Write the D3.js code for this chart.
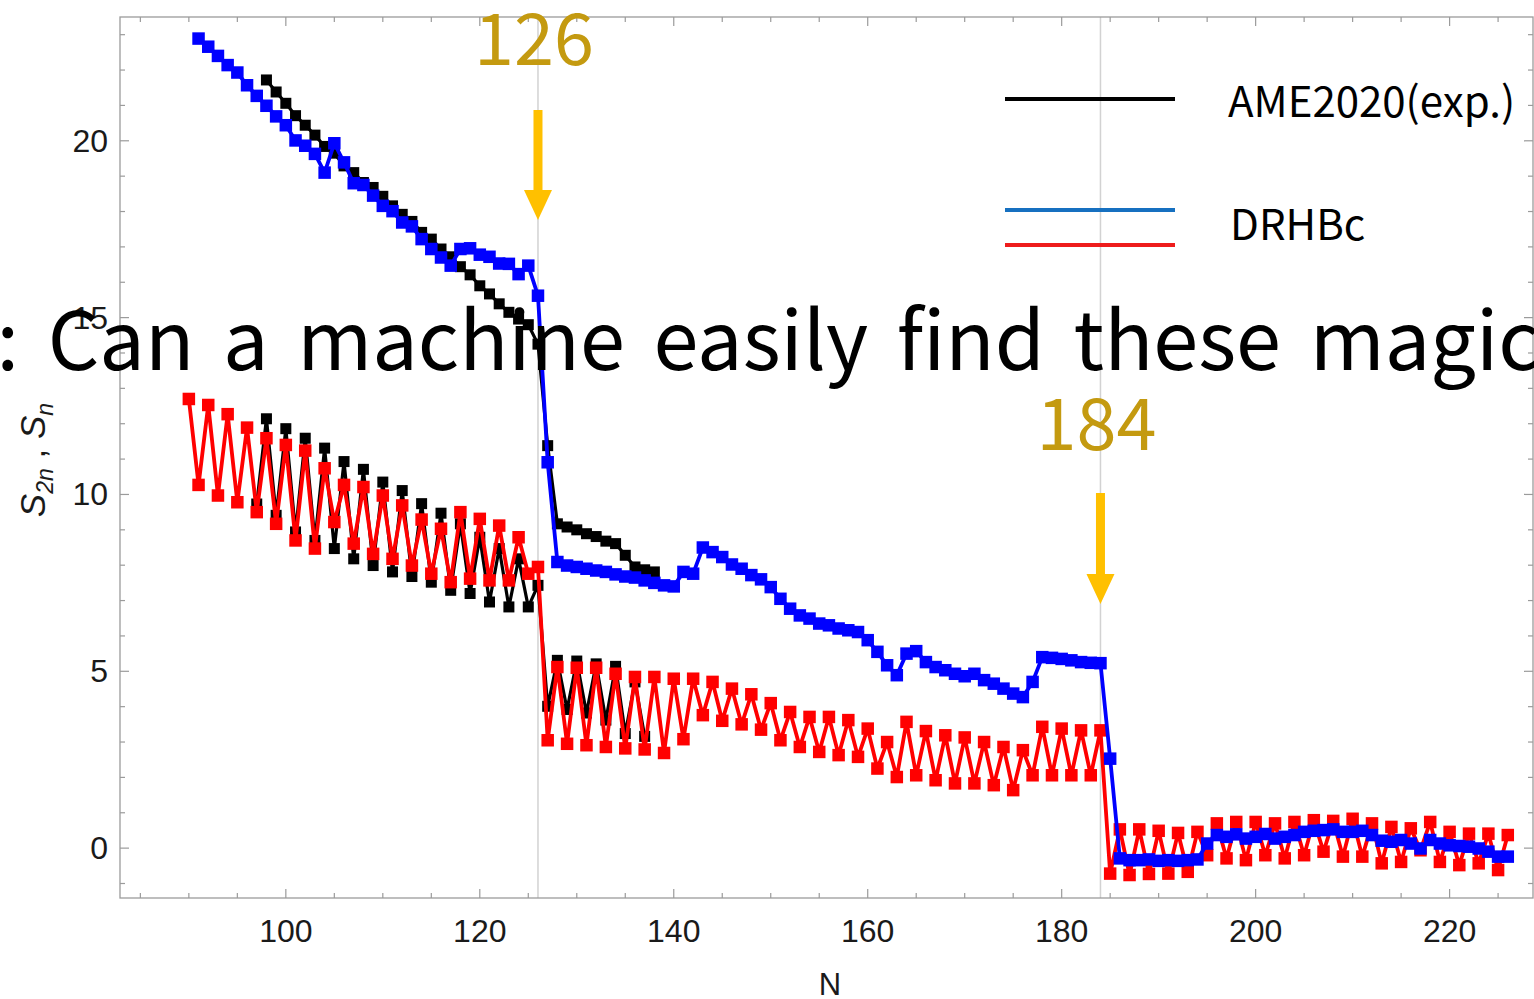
<!DOCTYPE html>
<html>
<head>
<meta charset="utf-8">
<script src="https://cdn.jsdelivr.net/npm/d3@7"></script>
<style>
  html, body { margin: 0; padding: 0; background: #fff; overflow: hidden; }
  svg { display: block; }
</style>
</head>
<body>
<svg id="chart" width="1534" height="999"></svg>
<script>
// ---- Data: neutron separation energies (MeV) along an isotopic chain ----
// AME2020 experimental one-neutron separation energy S_n, N = 97 ... 137
const expSnStartN = 97;
const expSn = [9.73, 12.14, 9.41, 11.86, 8.94, 11.59, 8.70, 11.31, 8.47, 10.93,
  8.18, 10.71, 7.99, 10.35, 7.81, 10.11, 7.68, 9.74, 7.52, 9.47,
  7.29, 9.17, 7.20, 8.79, 6.96, 8.47, 6.82, 8.18, 6.82, 7.43,
  4.01, 5.31, 3.92, 5.29, 3.82, 5.21, 3.62, 5.14, 3.24, 4.70, 3.16];

// AME2020 experimental two-neutron separation energy S_2n, N = 98 ... 138
const expS2nStartN = 98;
const expS2n = [21.72, 21.38, 21.06, 20.71, 20.44, 20.16, 19.84, 19.65, 19.29, 19.10,
  18.82, 18.68, 18.43, 18.16, 17.92, 17.72, 17.41, 17.22, 16.94, 16.72,
  16.44, 16.21, 15.90, 15.67, 15.39, 15.15, 14.96, 14.80, 14.25, 11.38,
  9.17, 9.08, 9.00, 8.89, 8.81, 8.68, 8.61, 8.28, 7.95, 7.87, 7.81];

// DRHBc S_n, N = 90 ... 226
const thSnStartN = 90;
const thSn = [12.70, 10.27, 12.53, 9.97, 12.27, 9.78, 11.89, 9.50, 11.59, 9.17,
  11.40, 8.70, 11.24, 8.47, 10.74, 9.22, 10.27, 8.61, 10.21, 8.32,
  9.97, 8.18, 9.69, 7.99, 9.29, 7.76, 9.03, 7.52, 9.50, 7.62,
  9.31, 7.57, 9.12, 7.57, 8.79, 7.76, 7.95, 3.05, 5.12, 2.95,
  5.10, 2.91, 5.10, 2.86, 4.93, 2.82, 4.84, 2.79, 4.84, 2.69,
  4.79, 3.08, 4.79, 3.76, 4.70, 3.60, 4.51, 3.50, 4.35, 3.35,
  4.10, 3.05, 3.85, 2.86, 3.71, 2.72, 3.71, 2.63, 3.62, 2.58,
  3.38, 2.25, 3.00, 2.01, 3.57, 2.06, 3.31, 1.92, 3.19, 1.83,
  3.13, 1.83, 3.00, 1.78, 2.86, 1.64, 2.77, 2.06, 3.43, 2.06,
  3.38, 2.06, 3.33, 2.06, 3.33, -0.72, 0.53, -0.76, 0.53, -0.73,
  0.49, -0.72, 0.43, -0.67, 0.46, -0.20, 0.70, -0.29, 0.74, -0.34,
  0.74, -0.20, 0.70, -0.29, 0.74, -0.20, 0.79, -0.10, 0.77, -0.24,
  0.83, -0.24, 0.70, -0.43, 0.60, -0.39, 0.56, -0.06, 0.74, -0.39,
  0.46, -0.48, 0.41, -0.43, 0.41, -0.62, 0.37];

// DRHBc S_2n, N = 91 ... 226
const thS2nStartN = 91;
const thS2n = [22.89, 22.66, 22.40, 22.14, 21.93, 21.57, 21.27, 20.99, 20.69, 20.44,
  20.01, 19.86, 19.63, 19.10, 19.93, 19.39, 18.80, 18.75, 18.45, 18.16,
  18.01, 17.69, 17.58, 17.22, 16.94, 16.70, 16.47, 16.94, 16.96, 16.78,
  16.72, 16.53, 16.52, 16.23, 16.47, 15.62, 10.91, 8.09, 7.99, 7.95,
  7.90, 7.85, 7.81, 7.74, 7.68, 7.65, 7.57, 7.50, 7.43, 7.40,
  7.81, 7.76, 8.50, 8.37, 8.23, 8.02, 7.90, 7.72, 7.60, 7.38,
  7.05, 6.77, 6.58, 6.49, 6.35, 6.30, 6.21, 6.16, 6.11, 5.88,
  5.55, 5.17, 4.89, 5.50, 5.57, 5.26, 5.12, 5.03, 4.93, 4.86,
  4.93, 4.75, 4.65, 4.51, 4.37, 4.27, 4.70, 5.40, 5.38, 5.35,
  5.31, 5.26, 5.24, 5.23, 2.53, -0.29, -0.34, -0.34, -0.32, -0.36,
  -0.34, -0.36, -0.34, -0.32, 0.13, 0.37, 0.32, 0.39, 0.27, 0.32,
  0.40, 0.27, 0.32, 0.37, 0.46, 0.49, 0.51, 0.53, 0.46, 0.46,
  0.49, 0.37, 0.21, 0.18, 0.23, 0.13, -0.01, 0.23, 0.13, 0.08,
  0.06, 0.04, -0.01, -0.10, -0.24, -0.24];

const xTickValues = [100, 120, 140, 160, 180, 200, 220];
const yTickValues = [0, 5, 10, 15, 20];
const magicNumbers = [126, 184];
const legendLabels = ["AME2020(exp.)", "DRHBc"];
const headline = ": Can a machine easily find these magic";

// ---- Layout ----
const plot = { left: 120, right: 1533, top: 17, bottom: 898 };

const svg = d3.select("#chart");

const x = d3.scaleLinear().domain([82.9, 228.6]).range([plot.left, plot.right]);
const y = d3.scaleLinear().domain([-1.41, 23.5]).range([plot.bottom, plot.top]);

const toPoints = (start, vals) => vals.map((v, i) => ({ n: start + i, v }));
const seriesExpSn = toPoints(expSnStartN, expSn);
const seriesExpS2n = toPoints(expS2nStartN, expS2n);
const seriesThSn = toPoints(thSnStartN, thSn);
const seriesThS2n = toPoints(thS2nStartN, thS2n);

svg.append("defs").append("clipPath").attr("id", "plotClip")
  .append("rect")
  .attr("x", plot.left).attr("y", plot.top)
  .attr("width", plot.right - plot.left).attr("height", plot.bottom - plot.top);

// Reference lines at the magic numbers
svg.append("g").selectAll("line").data(magicNumbers).join("line")
  .attr("x1", d => x(d)).attr("x2", d => x(d))
  .attr("y1", plot.top).attr("y2", plot.bottom)
  .attr("stroke", "#d2d2d2").attr("stroke-width", 1.5);

// Frame with inward ticks
const frameColor = "#9b9b9b";
const axes = svg.append("g");
axes.append("rect")
  .attr("x", plot.left).attr("y", plot.top)
  .attr("width", plot.right - plot.left).attr("height", plot.bottom - plot.top)
  .attr("fill", "none").attr("stroke", frameColor).attr("stroke-width", 1.3);

const xMinor = d3.range(85, 229, 5).filter(t => !xTickValues.includes(t));
const yMinor = d3.range(-1, 24, 1).filter(t => !yTickValues.includes(t));
const tickLong = 9, tickShort = 5;

function xTickMarks(vals, len) {
  vals.forEach(t => {
    axes.append("line").attr("x1", x(t)).attr("x2", x(t))
      .attr("y1", plot.bottom).attr("y2", plot.bottom - len)
      .attr("stroke", frameColor).attr("stroke-width", 1.2);
    axes.append("line").attr("x1", x(t)).attr("x2", x(t))
      .attr("y1", plot.top).attr("y2", plot.top + len)
      .attr("stroke", frameColor).attr("stroke-width", 1.2);
  });
}
function yTickMarks(vals, len) {
  vals.forEach(t => {
    axes.append("line").attr("x1", plot.left).attr("x2", plot.left + len)
      .attr("y1", y(t)).attr("y2", y(t))
      .attr("stroke", frameColor).attr("stroke-width", 1.2);
    axes.append("line").attr("x1", plot.right).attr("x2", plot.right - len)
      .attr("y1", y(t)).attr("y2", y(t))
      .attr("stroke", frameColor).attr("stroke-width", 1.2);
  });
}
xTickMarks(xTickValues, tickLong);
xTickMarks(xMinor, tickShort);
yTickMarks(yTickValues, tickLong);
yTickMarks(yMinor, tickShort);

const tickFont = "'Liberation Sans', Arial, sans-serif";
axes.selectAll("text.xl").data(xTickValues).join("text")
  .attr("class", "xl")
  .attr("x", d => x(d)).attr("y", 942)
  .attr("text-anchor", "middle")
  .attr("font-family", tickFont).attr("font-size", 32).attr("fill", "#1a1a1a")
  .text(d => d);

axes.selectAll("text.yl").data(yTickValues).join("text")
  .attr("class", "yl")
  .attr("x", 108).attr("y", d => y(d) + 11)
  .attr("text-anchor", "end")
  .attr("font-family", tickFont).attr("font-size", 32).attr("fill", "#1a1a1a")
  .text(d => d);

// Axis titles
svg.append("text")
  .attr("x", 830).attr("y", 995)
  .attr("text-anchor", "middle")
  .attr("font-family", tickFont).attr("font-size", 31).attr("fill", "#1a1a1a")
  .text("N");

const yTitle = svg.append("text")
  .attr("transform", "translate(45,460) rotate(-90)")
  .attr("text-anchor", "middle")
  .attr("font-family", tickFont).attr("font-size", 35).attr("fill", "#1a1a1a");
yTitle.append("tspan").attr("font-style", "italic").text("S");
yTitle.append("tspan").attr("font-style", "italic").attr("font-size", 23).attr("dy", 8).text("2n");
yTitle.append("tspan").attr("dy", -8).text(" , ");
yTitle.append("tspan").attr("font-style", "italic").text("S");
yTitle.append("tspan").attr("font-style", "italic").attr("font-size", 23).attr("dy", 8).text("n");

// ---- Series ----
const data = svg.append("g").attr("clip-path", "url(#plotClip)");
const line = d3.line().x(d => x(d.n)).y(d => y(d.v));

function drawSeries(points, color, lw, ms) {
  const g = data.append("g");
  g.append("path").datum(points)
    .attr("d", line).attr("fill", "none")
    .attr("stroke", color).attr("stroke-width", lw).attr("stroke-linejoin", "round");
  g.selectAll("rect").data(points).join("rect")
    .attr("x", d => x(d.n) - ms / 2).attr("y", d => y(d.v) - ms / 2)
    .attr("width", ms).attr("height", ms).attr("fill", color);
}

drawSeries(seriesExpS2n, "#000000", 3.2, 11);
drawSeries(seriesExpSn, "#000000", 3.2, 11);
drawSeries(seriesThSn, "#ff0000", 3.8, 12.5);
drawSeries(seriesThS2n, "#0000ff", 3.8, 12.5);

// ---- Legend ----
const legend = svg.append("g");
legend.append("line").attr("x1", 1005).attr("x2", 1175).attr("y1", 99).attr("y2", 99)
  .attr("stroke", "#000").attr("stroke-width", 4);
legend.append("line").attr("x1", 1005).attr("x2", 1175).attr("y1", 210).attr("y2", 210)
  .attr("stroke", "#1670c0").attr("stroke-width", 4);
legend.append("line").attr("x1", 1005).attr("x2", 1175).attr("y1", 245).attr("y2", 245)
  .attr("stroke", "#ee1c1c").attr("stroke-width", 4);
const legendFont = "'Noto Sans CJK KR', 'Noto Sans', sans-serif";
legend.append("text").attr("x", 1228).attr("y", 117)
  .attr("font-family", legendFont).attr("font-size", 42).attr("fill", "#000")
  .text(legendLabels[0]);
legend.append("text").attr("x", 1230).attr("y", 240)
  .attr("font-family", legendFont).attr("font-size", 42).attr("fill", "#000")
  .text(legendLabels[1]);

// ---- Magic number annotations ----
const annot = svg.append("g");
const gold = "#c49a10";
const arrowColor = "#ffc000";
const arrowSpecs = [
  { n: magicNumbers[0], labelBase: 65, top: 110, tip: 220 },
  { n: magicNumbers[1], labelBase: 450, top: 493, tip: 604 }
];
arrowSpecs.forEach(a => {
  const cx = x(a.n);
  annot.append("text").attr("x", cx - 4).attr("y", a.labelBase)
    .attr("text-anchor", "middle")
    .attr("font-family", legendFont).attr("font-size", 72).attr("fill", gold)
    .text(a.n);
  annot.append("rect").attr("x", cx - 4.5).attr("y", a.top)
    .attr("width", 9).attr("height", a.tip - a.top - 28).attr("fill", arrowColor);
  annot.append("path")
    .attr("d", `M${cx - 14},${a.tip - 30} L${cx + 14},${a.tip - 30} L${cx},${a.tip} Z`)
    .attr("fill", arrowColor);
});

// ---- Headline question across the plot ----
svg.append("text").attr("x", -3.5).attr("y", 370)
  .attr("font-family", legendFont).attr("font-size", 81).attr("fill", "#000")
  .attr("word-spacing", 10.5)
  .text(headline);
</script>
</body>
</html>
